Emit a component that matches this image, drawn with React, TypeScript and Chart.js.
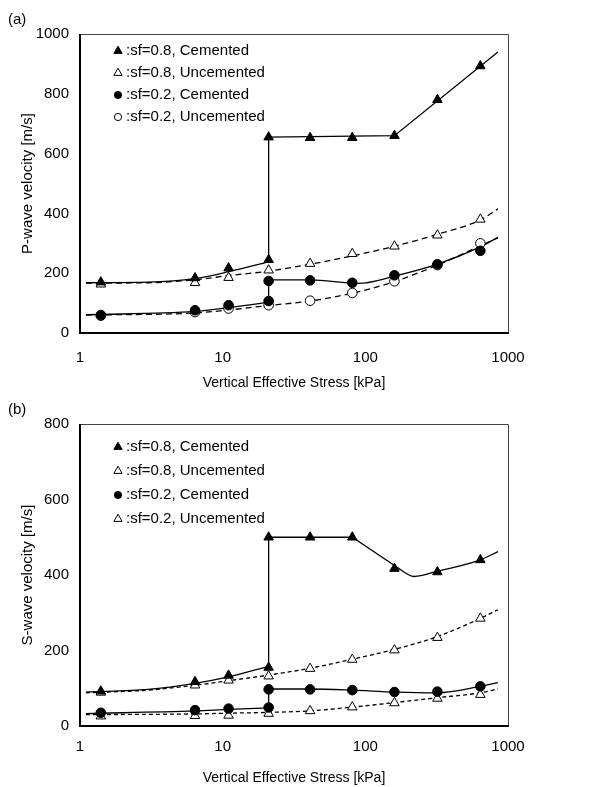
import React, { useEffect, useRef } from "react";
import { Chart, registerables } from "chart.js";

Chart.register(...registerables);

// ---------- data ----------
const stress = [1.4, 6.4, 11, 21, 41, 81, 160, 320, 640];
const stressCemented = [1.4, 6.4, 11, 21, 21, 41, 81, 160, 320, 640];

const xTickLabels = ["1", "10", "100", "1000"];
const pTicks = [0, 200, 400, 600, 800, 1000];
const sTicks = [0, 200, 400, 600, 800];

const legendLabels = [
  ":sf=0.8, Cemented",
  ":sf=0.8, Uncemented",
  ":sf=0.2, Cemented",
  ":sf=0.2, Uncemented",
];

// P-wave velocity [m/s]
const pC08 = [170, 184, 217, 245, 655, 653, 653, 660, 780, 893];
const pU08 = [163, 168, 185, 210, 232, 265, 290, 327, 380];
const pC02 = [60, 76, 93, 107, 174, 176, 168, 193, 230, 275];
const pU02 = [58, 70, 82, 93, 108, 134, 173, 227, 300];

// P-wave fitted curves [stress, velocity]
const pFitC08Low = [[1.1, 168], [3, 170], [6.4, 182], [11, 205], [21, 238]];
const pFitC08High = [[21, 655], [160, 660], [850, 940]]; // straight segments
const pFitU08 = [[1.1, 167], [3, 168], [6.4, 178], [11, 192], [21, 207], [41, 230], [81, 258], [160, 290], [320, 330], [640, 378], [850, 415]];
const pFitC02Low = [[1.1, 61], [6.4, 72], [11, 85], [21, 103]];
const pFitC02High = [[21, 178], [41, 178], [90, 166], [160, 190], [320, 230], [640, 288], [850, 320]];
const pFitU02 = [[1.1, 60], [6.4, 67], [11, 77], [21, 92], [41, 107], [81, 133], [160, 172], [320, 227], [640, 292], [850, 318]];

// S-wave velocity [m/s]
const sC08 = [92, 117, 134, 155, 500, 500, 500, 417, 408, 440];
const sU08 = [89, 108, 121, 132, 152, 176, 201, 234, 285];
const sC02 = [35, 42, 46, 49, 97, 97, 95, 90, 91, 105];
const sU02 = [26, 27, 28, 33, 40, 50, 61, 73, 83];

// S-wave fitted curves [stress, velocity]
const sFitC08Low = [[1.1, 90], [3, 97], [6.4, 113], [11, 130], [21, 158]];
const sFitC08Flat = [[21, 500], [81, 500], [160, 425]]; // straight segments
const sFitC08Dip = [[160, 425], [220, 396], [320, 410], [640, 440], [850, 462]];
const sFitU08 = [[1.1, 88], [3, 95], [6.4, 108], [11, 120], [21, 135], [41, 153], [81, 177], [160, 203], [320, 237], [640, 285], [850, 308]];
const sFitC02Low = [[1.1, 33], [6.4, 40], [11, 44], [21, 48]];
const sFitC02High = [[21, 98], [41, 98], [81, 95], [160, 90], [320, 88], [640, 105], [850, 115]];
const sFitU02 = [[1.1, 30], [6.4, 32], [11, 34], [21, 36], [41, 40], [81, 50], [160, 62], [320, 75], [640, 88], [850, 98]];

// ---------- helpers ----------
const FONT = "'Liberation Sans', Arial, sans-serif";

type MarkerSpec = { xs: number[]; ys: number[]; style: "triangle" | "circle"; filled: boolean };
type Spec = {
  yMax: number;
  yTicks: number[];
  yTitle: string;
  markers: MarkerSpec[];
  solid: number[][][];
  straight: number[][][];
  jumps: [number[][], number[][]][];
  dashed: number[][][];
  dash: number[];
  padTop: number;
  xAxisHeight: number;
  xTickPad: number;
  legendTop: number;
  legendGap: number;
};

const toPts = (a: number[][]) => a.map(([x, y]) => ({ x, y }));

function drawMarker(ctx: CanvasRenderingContext2D, m: MarkerSpec, x: number, y: number, r: number) {
  ctx.save();
  ctx.beginPath();
  if (m.style === "circle") {
    ctx.arc(x, y, r, 0, Math.PI * 2);
  } else {
    const h = r * Math.sin(Math.PI / 3);
    ctx.moveTo(x, y - r);
    ctx.lineTo(x + h, y + r * 0.5);
    ctx.lineTo(x - h, y + r * 0.5);
    ctx.closePath();
  }
  ctx.fillStyle = m.filled ? "#000" : "#fff";
  ctx.fill();
  ctx.lineWidth = 1;
  ctx.strokeStyle = "#000";
  ctx.stroke();
  ctx.restore();
}

function lineDs(c: number[][], extra: any) {
  return {
    data: toPts(c),
    showLine: true,
    pointRadius: 0,
    borderColor: "#000",
    borderWidth: 1.3,
    order: 1,
    ...extra,
  };
}

function buildConfig(spec: Spec): any {
  const datasets: any[] = [];
  spec.markers.forEach((m) => {
    datasets.push({
      data: m.xs.map((x, i) => ({ x, y: m.ys[i] })),
      showLine: false,
      pointStyle: m.style,
      pointRadius: m.style === "triangle" ? 5.5 : 4.8,
      pointBackgroundColor: m.filled ? "#000" : "#fff",
      pointBorderColor: "#000",
      pointBorderWidth: 1,
      order: 0,
    });
  });
  spec.solid.forEach((c) => datasets.push(lineDs(c, { cubicInterpolationMode: "monotone" })));
  spec.straight.forEach((c) => datasets.push(lineDs(c, { tension: 0 })));
  spec.jumps.forEach(([low, high]) =>
    datasets.push(lineDs([low[low.length - 1], high[0]], { tension: 0 }))
  );
  spec.dashed.forEach((c) =>
    datasets.push(lineDs(c, { cubicInterpolationMode: "monotone", borderDash: spec.dash }))
  );

  const framePlugin = {
    id: "frameLegend",
    afterDraw(chart: any) {
      const { ctx, chartArea: a } = chart;
      ctx.save();
      ctx.strokeStyle = "#444";
      ctx.lineWidth = 1;
      ctx.beginPath();
      ctx.moveTo(a.left, a.top + 0.5);
      ctx.lineTo(a.right + 0.5, a.top + 0.5);
      ctx.lineTo(a.right + 0.5, a.bottom);
      ctx.stroke();
      ctx.strokeStyle = "#000";
      ctx.lineWidth = 2;
      ctx.beginPath();
      ctx.moveTo(a.left, a.top);
      ctx.lineTo(a.left, a.bottom);
      ctx.lineTo(a.right + 1, a.bottom);
      ctx.stroke();
      // legend
      ctx.font = `15px ${FONT}`;
      ctx.fillStyle = "#000";
      ctx.textBaseline = "middle";
      ctx.textAlign = "left";
      spec.markers.forEach((m, i) => {
        const y = a.top + spec.legendTop + i * spec.legendGap;
        const x = a.left + 38;
        drawMarker(ctx, m, x, y, m.style === "triangle" ? 4.8 : 3.6);
        ctx.fillText(legendLabels[i], x + 8, y);
      });
      ctx.restore();
    },
  };

  return {
    type: "scatter",
    data: { datasets },
    plugins: [framePlugin],
    options: {
      responsive: false,
      animation: false,
      events: [],
      layout: { padding: { top: spec.padTop, right: 88, left: 0, bottom: 0 } },
      plugins: { legend: { display: false }, tooltip: { enabled: false } },
      scales: {
        x: {
          type: "logarithmic",
          min: 1,
          max: 1000,
          grid: { display: false, drawTicks: false },
          border: { display: false },
          ticks: {
            autoSkip: false,
            maxRotation: 0,
            padding: spec.xTickPad,
            color: "#000",
            font: { family: FONT, size: 15 },
            callback: (v: any) => {
              const s = String(Number(v));
              return xTickLabels.includes(s) ? s : "";
            },
          },
          title: {
            display: true,
            text: "Vertical Effective Stress [kPa]",
            color: "#000",
            font: { family: FONT, size: 14 },
            padding: { top: 0, bottom: 0 },
          },
          afterFit: (s: any) => {
            s.height = spec.xAxisHeight;
          },
        },
        y: {
          type: "linear",
          min: 0,
          max: spec.yMax,
          grid: { display: false, drawTicks: false },
          border: { display: false },
          afterBuildTicks: (s: any) => {
            s.ticks = spec.yTicks.map((v) => ({ value: v }));
          },
          ticks: {
            padding: 11,
            color: "#000",
            font: { family: FONT, size: 15 },
            callback: (v: any) => String(v),
          },
          title: {
            display: true,
            text: spec.yTitle,
            color: "#000",
            font: { family: FONT, size: 15 },
            padding: { top: 19, bottom: 0 },
          },
          afterFit: (s: any) => {
            s.width = 80;
          },
        },
      },
    },
  };
}

const specP: Spec = {
  yMax: 1000,
  yTicks: pTicks,
  yTitle: "P-wave velocity [m/s]",
  markers: [
    { xs: stressCemented, ys: pC08, style: "triangle", filled: true },
    { xs: stress, ys: pU08, style: "triangle", filled: false },
    { xs: stressCemented, ys: pC02, style: "circle", filled: true },
    { xs: stress, ys: pU02, style: "circle", filled: false },
  ],
  solid: [pFitC08Low, pFitC02Low, pFitC02High],
  straight: [pFitC08High],
  jumps: [[pFitC08Low, pFitC08High], [pFitC02Low, pFitC02High]],
  dashed: [pFitU08, pFitU02],
  dash: [6, 4],
  padTop: 34,
  xAxisHeight: 59,
  xTickPad: 16,
  legendTop: 17,
  legendGap: 22,
};

const specS: Spec = {
  yMax: 800,
  yTicks: sTicks,
  yTitle: "S-wave velocity [m/s]",
  markers: [
    { xs: stressCemented, ys: sC08, style: "triangle", filled: true },
    { xs: stress, ys: sU08, style: "triangle", filled: false },
    { xs: stressCemented, ys: sC02, style: "circle", filled: true },
    { xs: stress, ys: sU02, style: "triangle", filled: false },
  ],
  solid: [sFitC08Low, sFitC08Dip, sFitC02Low, sFitC02High],
  straight: [sFitC08Flat],
  jumps: [[sFitC08Low, sFitC08Flat], [sFitC02Low, sFitC02High]],
  dashed: [sFitU08, sFitU02],
  dash: [4, 3],
  padTop: 32,
  xAxisHeight: 61,
  xTickPad: 12,
  legendTop: 23,
  legendGap: 24,
};

function VelocityChart({ spec, top, height }: { spec: Spec; top: number; height: number }) {
  const ref = useRef<HTMLCanvasElement>(null);
  useEffect(() => {
    const chart = new Chart(ref.current as HTMLCanvasElement, buildConfig(spec));
    return () => chart.destroy();
  }, [spec]);
  return (
    <canvas
      ref={ref}
      width={596}
      height={height}
      style={{ position: "absolute", left: 0, top, width: 596, height }}
    />
  );
}

const labelStyle: React.CSSProperties = {
  position: "absolute",
  left: 8,
  fontFamily: FONT,
  fontSize: 15,
  color: "#000",
  lineHeight: "18px",
};

export default function App() {
  return (
    <div style={{ position: "absolute", left: 0, top: 0, width: 596, height: 787, background: "#fff" }}>
      <VelocityChart spec={specP} top={0} height={392} />
      <VelocityChart spec={specS} top={392} height={395} />
      <div style={{ ...labelStyle, top: 10 }}>(a)</div>
      <div style={{ ...labelStyle, top: 400 }}>(b)</div>
    </div>
  );
}
